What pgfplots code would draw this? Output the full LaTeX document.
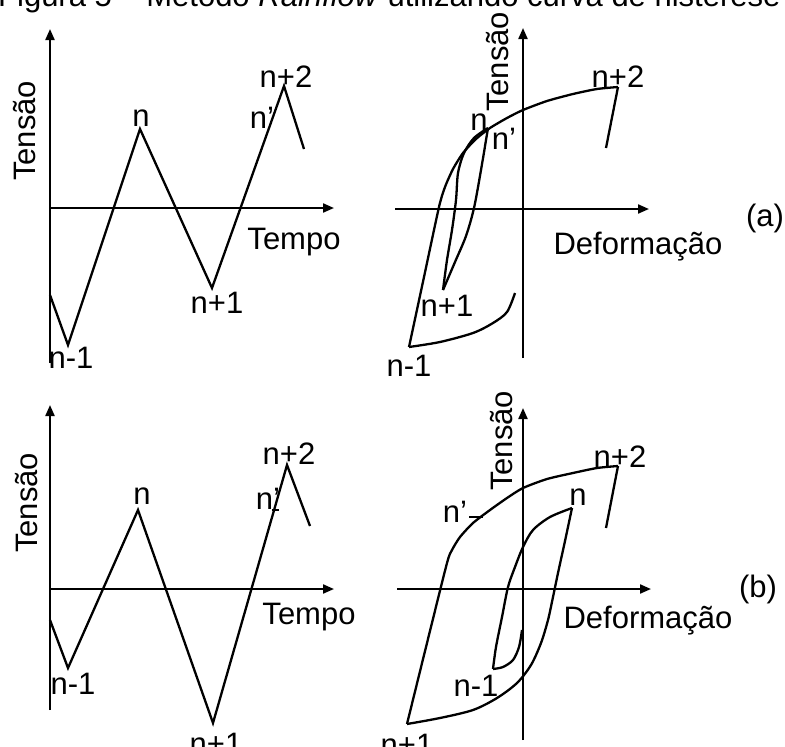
\documentclass[border=0pt]{standalone}
\usepackage{fontspec}
\setmainfont{Liberation Sans}
\usepackage{pgfplots}
\pgfplotsset{compat=1.18}
\usetikzlibrary{arrows.meta}

\newcommand{\lbl}{\fontsize{31}{37}\selectfont}
\tikzset{
  ax/.style={black, line width=2.1pt, -{Triangle[length=11pt,width=9pt]}},
  lab/.style={font=\lbl, inner sep=0pt},
}

\begin{document}
\begin{tikzpicture}
\path[use as bounding box] (0,0) rectangle (785pt,747pt);
\clip (0,0) rectangle (785pt,747pt);
\begin{axis}[
  at={(0,0)}, anchor=south west,
  scale only axis, width=785pt, height=747pt,
  xmin=0, xmax=785, ymin=0, ymax=747, y dir=reverse,
  hide axis, clip=false,
  cycle list={{black, solid, line width=2.3pt, no marks}},
  every axis plot/.append style={black, line width=2.3pt, no marks},
]
% caption line above the figure
\node[anchor=base west, inner sep=0pt, font=\fontsize{31}{36}\selectfont]
  at (axis cs:-2,6) {Figura 5 – Método \textit{Rainflow} utilizando curva de histerese};

% ---------------- (a) stress history ----------------
\addplot[ax] coordinates {(50,363) (50,29)};
\addplot[ax] coordinates {(50,208) (334,208)};
\addplot[sharp plot] coordinates {(50,295) (68,345) (140,129) (212,288) (284,86) (304,149)};
\node[lab, rotate=90] at (axis cs:25,131) {Tensão};
\node[lab] at (axis cs:294,242) {Tempo};
\node[lab] at (axis cs:141,118) {n};
\node[lab] at (axis cs:286,77) {n+2};
\node[lab] at (axis cs:262,118) {n’};
\node[lab] at (axis cs:217,303) {n+1};
\node[lab] at (axis cs:71,358) {n-1};

% ---------------- (a) hysteresis ----------------
\addplot[ax] coordinates {(523,358) (523,28)};
\addplot[ax] coordinates {(395,209) (649,209)};
% loading curve n-1 -> n -> n+2
\addplot[smooth, tension=0.4] coordinates {(409,347) (424,277) (439,207) (445,187) (453,169) (463,153) (476,139) (490,128) (507,118) (523,110) (547,101) (573,94) (597,89) (618,87)};
\addplot[sharp plot] coordinates {(618,87) (606,148)};
% reversal branch from n-1
\addplot[smooth, tension=0.5] coordinates {(409,347) (440,342) (473,333) (493,323) (507,312) (515,293)};
% inner loop n -> n+1 -> n
\addplot[smooth, tension=0.5] coordinates {(488,128) (474,138) (464,153) (458,173) (456,200) (452,230) (447,260) (443,290)};
\addplot[smooth, tension=0.5] coordinates {(443,290) (455,262) (466,236) (474,208) (481,170) (488,128)};
\node[lab, rotate=90] at (axis cs:498,62) {Tensão};
\node[lab] at (axis cs:638,247) {Deformação};
\node[lab] at (axis cs:765,218) {(a)};
\node[lab] at (axis cs:479,122) {n};
\node[lab] at (axis cs:504,139) {n’};
\node[lab] at (axis cs:618,77) {n+2};
\node[lab] at (axis cs:447,306) {n+1};
\node[lab] at (axis cs:409,366) {n-1};

% ---------------- (b) stress history ----------------
\addplot[ax] coordinates {(50,710) (50,405)};
\addplot[ax] coordinates {(50,589) (334,589)};
\addplot[sharp plot] coordinates {(50,620) (68,668) (138,510) (213,723) (287,465) (310,526)};
\addplot[sharp plot] coordinates {(272,510) (279,510)};
\node[lab, rotate=90] at (axis cs:27,503) {Tensão};
\node[lab] at (axis cs:309,617) {Tempo};
\node[lab] at (axis cs:142,496) {n};
\node[lab] at (axis cs:289,454) {n+2};
\node[lab] at (axis cs:268,499) {n’};
\node[lab] at (axis cs:73,684) {n-1};
\node[lab] at (axis cs:216,744) {n+1};

% ---------------- (b) hysteresis ----------------
\addplot[ax] coordinates {(523,740) (523,408)};
\addplot[ax] coordinates {(397,589) (651,589)};
% loading curve n+1 -> n' -> n+2
\addplot[smooth, tension=0.4] coordinates {(407,724) (427,643) (447,563) (452,550) (460,537) (473,523) (490,510) (507,498) (523,488) (547,479) (573,473) (597,468) (618,466)};
\addplot[sharp plot] coordinates {(618,466) (606,528)};
% branch n -> n+1
\addplot[smooth, tension=0.5] coordinates {(407,724) (440,718) (473,710) (497,698) (517,683) (531,665) (541,643) (548,620) (553,597) (558,573) (565,541) (572,508)};
% branch n -> n-1
\addplot[smooth, tension=0.5] coordinates {(572,508) (550,517) (533,530) (523,547) (515,567) (508,587) (502,617) (496,647) (493,669)};
% reversal from n-1
\addplot[smooth, tension=0.5] coordinates {(493,669) (503,667) (513,660) (519,647) (522,630)};
\addplot[sharp plot] coordinates {(469,517) (483,517)};
\node[lab, rotate=90] at (axis cs:502,441) {Tensão};
\node[lab] at (axis cs:648,621) {Deformação};
\node[lab] at (axis cs:758,589) {(b)};
\node[lab] at (axis cs:578,497) {n};
\node[lab] at (axis cs:620,457) {n+2};
\node[lab] at (axis cs:455,512) {n’};
\node[lab] at (axis cs:476,686) {n-1};
\node[lab] at (axis cs:407,745) {n+1};
\end{axis}
\end{tikzpicture}
\end{document}
